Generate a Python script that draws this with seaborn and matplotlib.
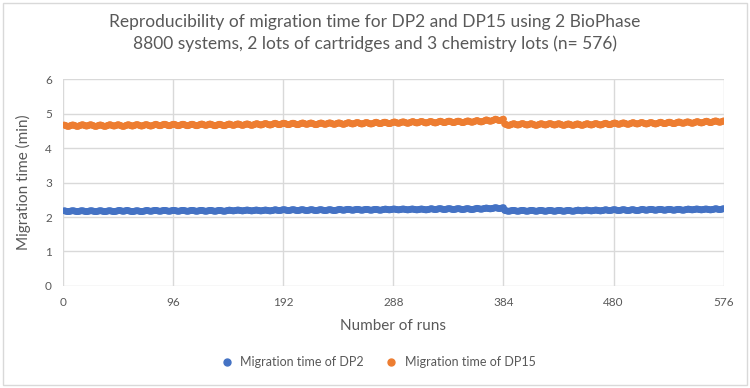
import numpy as np
import pandas as pd
import matplotlib
matplotlib.use("Agg")
import matplotlib.pyplot as plt
import seaborn as sns
from matplotlib.patches import Rectangle
from matplotlib.lines import Line2D

# Mean migration time per run (72 runs x 8 capillaries = 576 injections)
dp2_run_means = [
    2.17, 2.17, 2.17, 2.17, 2.17, 2.17, 2.18, 2.17, 2.17, 2.18, 2.18, 2.18,
    2.18, 2.18, 2.18, 2.18, 2.18, 2.18, 2.19, 2.19, 2.19, 2.19, 2.19, 2.20,
    2.20, 2.20, 2.20, 2.20, 2.20, 2.20, 2.21, 2.21, 2.21, 2.21, 2.21, 2.22,
    2.22, 2.22, 2.22, 2.22, 2.23, 2.23, 2.23, 2.23, 2.23, 2.24, 2.25, 2.26,
    2.18, 2.18, 2.18, 2.18, 2.18, 2.18, 2.18, 2.18, 2.19, 2.19, 2.19, 2.20,
    2.20, 2.20, 2.20, 2.21, 2.21, 2.21, 2.21, 2.21, 2.22, 2.22, 2.22, 2.23,
]
dp15_run_means = [
    4.65, 4.65, 4.66, 4.65, 4.65, 4.66, 4.65, 4.66, 4.66, 4.66, 4.67, 4.67,
    4.67, 4.67, 4.67, 4.68, 4.67, 4.67, 4.68, 4.68, 4.68, 4.69, 4.69, 4.70,
    4.70, 4.70, 4.71, 4.70, 4.71, 4.71, 4.71, 4.72, 4.72, 4.72, 4.73, 4.73,
    4.74, 4.74, 4.75, 4.75, 4.75, 4.76, 4.76, 4.76, 4.77, 4.78, 4.80, 4.82,
    4.68, 4.69, 4.69, 4.68, 4.69, 4.69, 4.68, 4.68, 4.68, 4.69, 4.69, 4.70,
    4.71, 4.71, 4.72, 4.72, 4.72, 4.73, 4.73, 4.74, 4.74, 4.75, 4.76, 4.77,
]
# capillary-to-capillary offsets within a run (8 capillaries)
dp2_cap_offsets = [0.012, 0.004, -0.004, -0.012, -0.012, -0.004, 0.004, 0.012]
dp15_cap_offsets = [0.02, 0.007, -0.007, -0.02, -0.02, -0.007, 0.007, 0.02]

series_names = ["Migration time of DP2", "Migration time of DP15"]
x_ticks = [0, 96, 192, 288, 384, 480, 576]
y_ticks = [0, 1, 2, 3, 4, 5, 6]

dp2 = np.add.outer(dp2_run_means, dp2_cap_offsets).ravel()
dp15 = np.add.outer(dp15_run_means, dp15_cap_offsets).ravel()
runs = np.arange(1, len(dp2) + 1)

df = pd.concat([
    pd.DataFrame({"run": runs, "time": dp2, "serie": series_names[0]}),
    pd.DataFrame({"run": runs, "time": dp15, "serie": series_names[1]}),
])

sns.set_style("white")
plt.rcParams["font.family"] = ["Lato", "DejaVu Sans"]
grey = "#595959"
cores = ["#4472C4", "#ED7D31"]

fig = plt.figure(figsize=(7.5, 3.88), dpi=100)
ax = fig.add_axes([0.084, 0.263, 0.881, 0.533])

sns.scatterplot(data=df, x="run", y="time", hue="serie",
                palette=cores, s=24, linewidth=0,
                ax=ax, legend=False, zorder=3)

ax.set_xlim(0, 576)
ax.set_ylim(0, 6)
ax.set_xticks(x_ticks)
ax.set_yticks(y_ticks)
ax.grid(True, color="#d9d9d9", linewidth=1)
ax.set_axisbelow(True)
for s in ax.spines.values():
    s.set_visible(False)
ax.tick_params(length=0, labelsize=8.5, colors=grey, pad=8)
ax.set_xlabel("Number of runs", fontsize=11, color=grey, labelpad=8)
ax.set_ylabel("Migration time (min)", fontsize=11, color=grey, labelpad=10)

fig.text(0.5, 0.915, "Reproducibility of migration time for DP2 and DP15 using 2 BioPhase\n"
         "8800 systems, 2 lots of cartridges and 3 chemistry lots (n= 576)",
         ha="center", va="center", fontsize=12.5, color=grey, linespacing=1.35)

# legenda
handles = [Line2D([], [], marker="o", linestyle="", color=c, markersize=5) for c in cores]
fig.legend(handles, series_names, loc="center", bbox_to_anchor=(0.5, 0.067),
           ncol=2, frameon=False, fontsize=9, handletextpad=0.1,
           columnspacing=1.2, labelcolor=grey)

fig.patches.append(Rectangle((0.004, 0.008), 0.992, 0.984, transform=fig.transFigure,
                             fill=False, edgecolor="#d9d9d9", linewidth=1))

fig.savefig("out.png", dpi=100)
